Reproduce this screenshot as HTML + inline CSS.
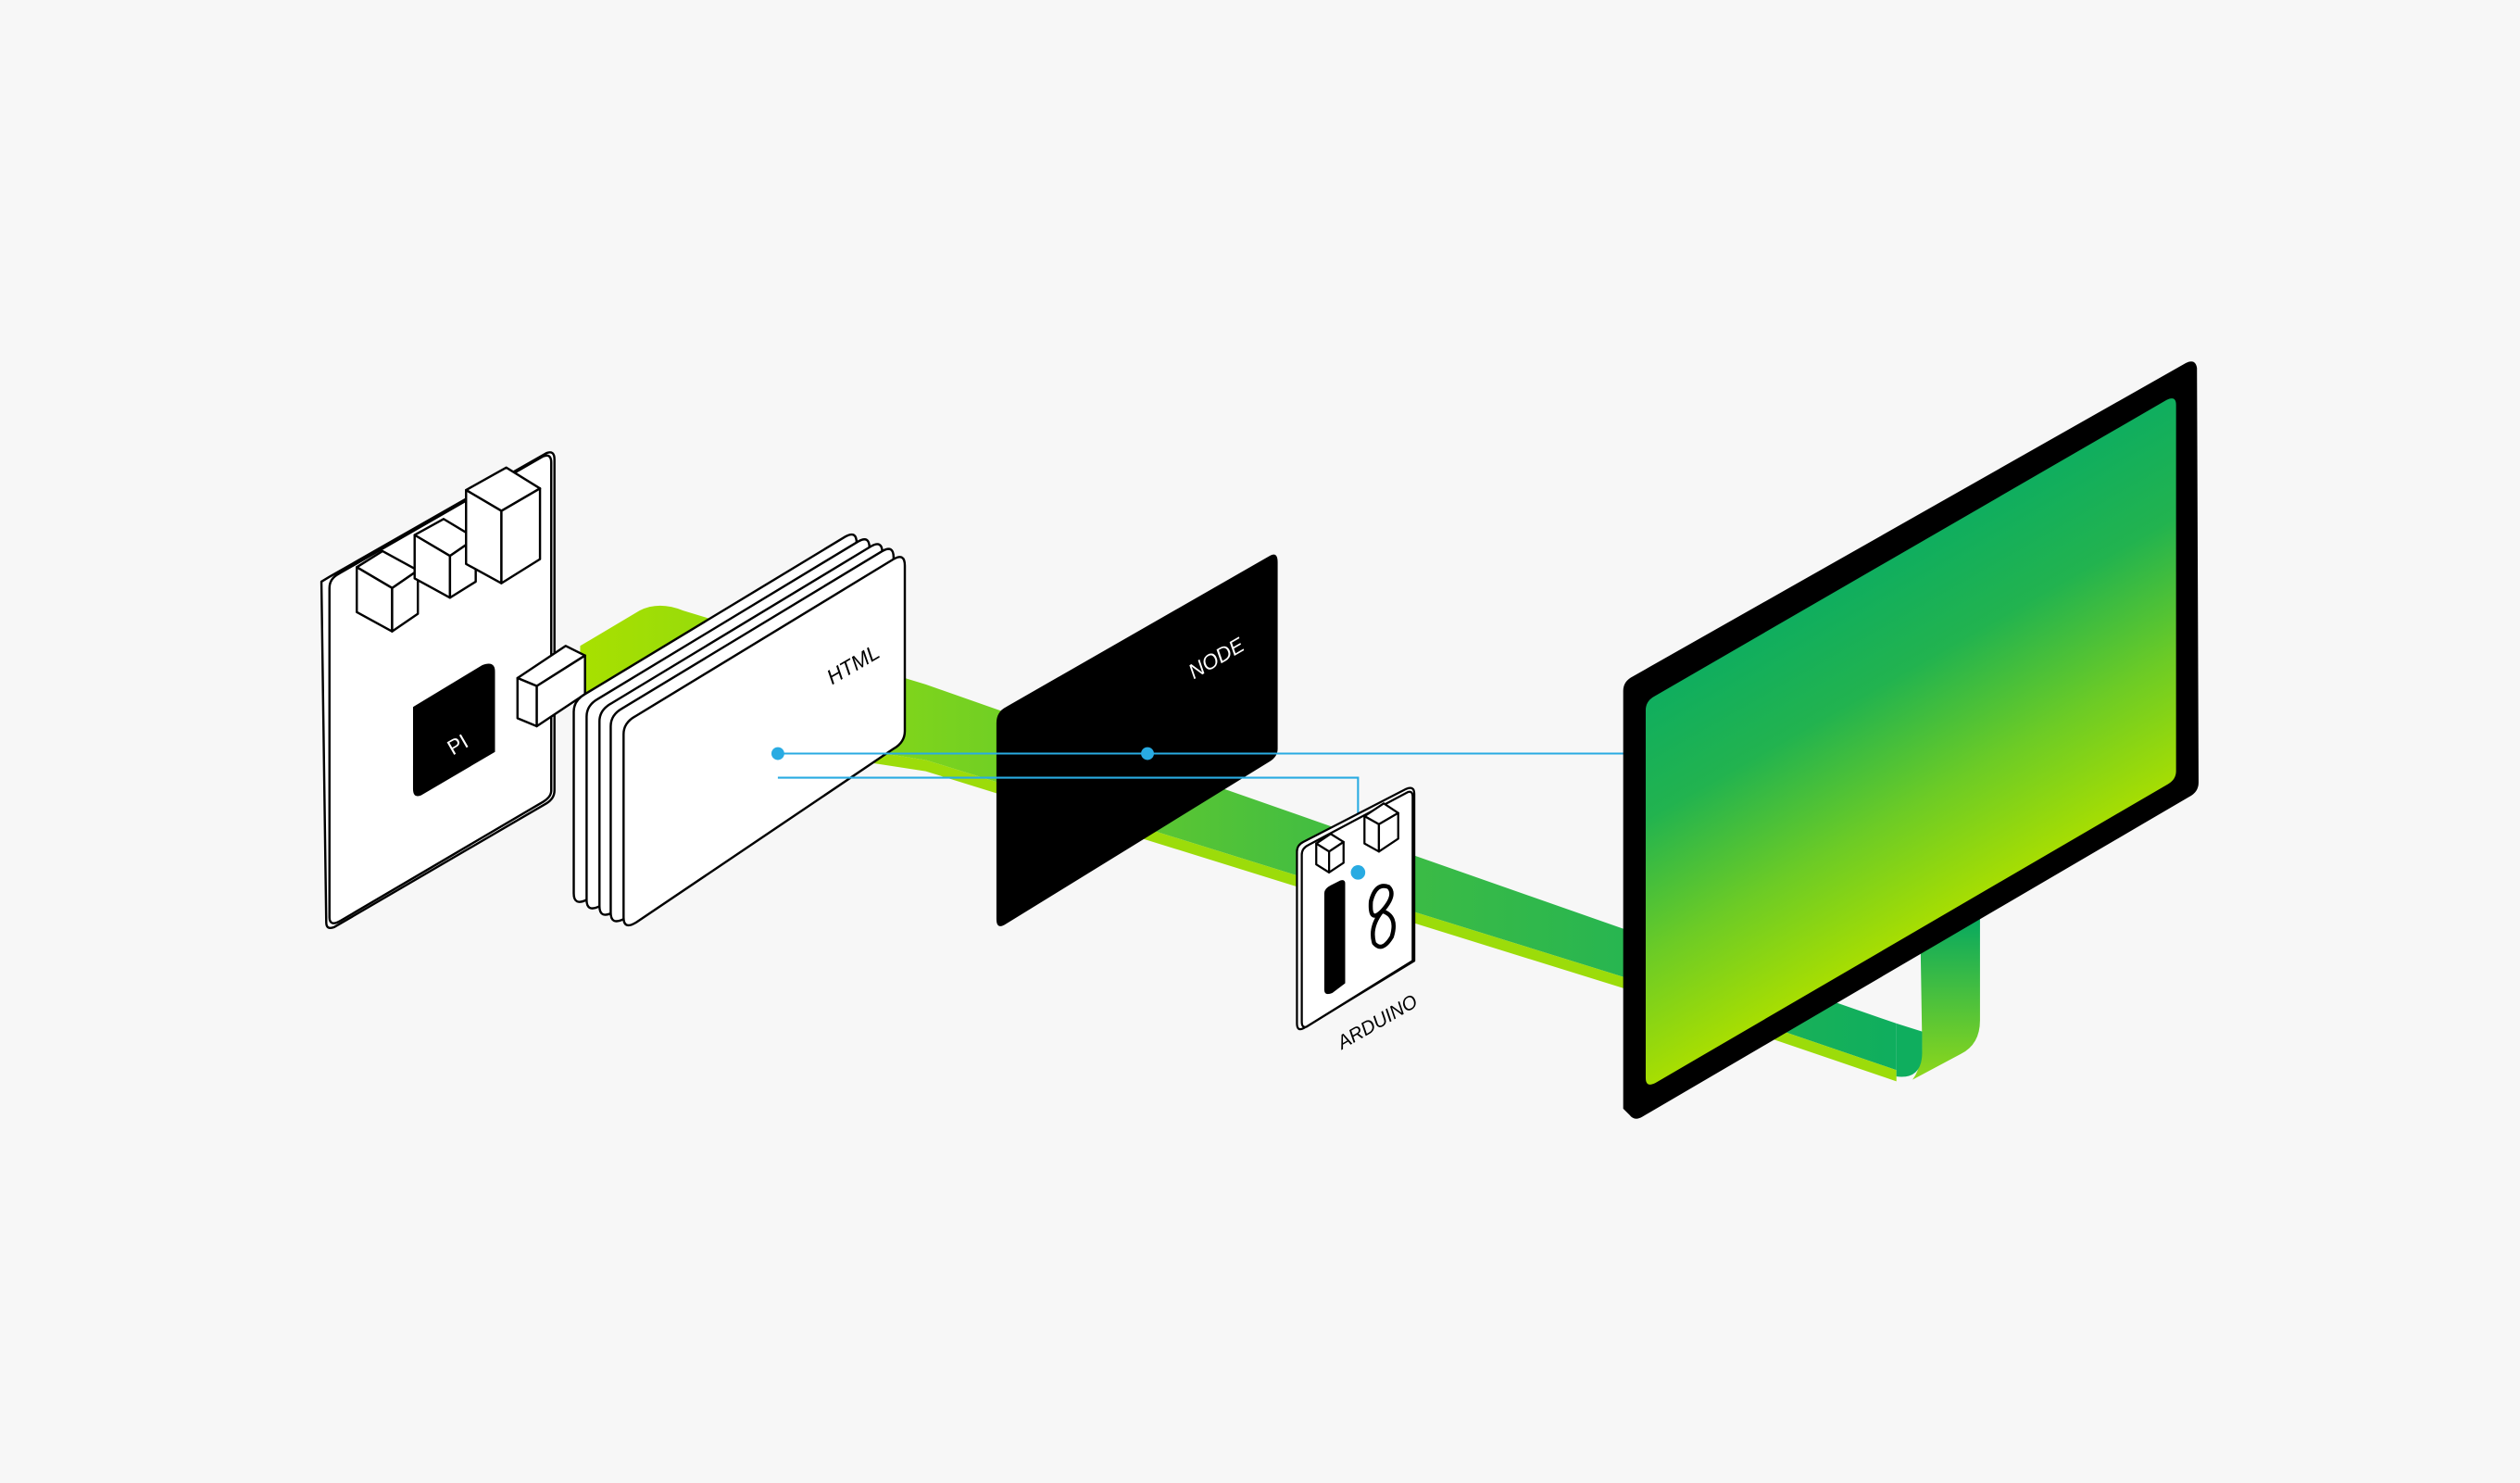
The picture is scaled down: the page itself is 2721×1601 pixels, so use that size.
<!DOCTYPE html>
<html><head><meta charset="utf-8"><style>
html,body{margin:0;padding:0;background:#f7f7f7;}
svg{display:block;}
text{font-family:"Liberation Sans",sans-serif;}
</style></head><body>
<svg width="2721" height="1601" viewBox="0 0 1568 923" preserveAspectRatio="none" xmlns="http://www.w3.org/2000/svg">
<defs>
<linearGradient id="band" x1="0" y1="0" x2="1" y2="0">
<stop offset="0" stop-color="#a8e000"/><stop offset="0.25" stop-color="#7ed41c"/><stop offset="0.55" stop-color="#45be40"/><stop offset="1" stop-color="#0fae5e"/></linearGradient>
<linearGradient id="scr" gradientUnits="userSpaceOnUse" x1="1185" y1="345" x2="1290" y2="529">
<stop offset="0" stop-color="#10ae5e"/><stop offset="0.3" stop-color="#22b34f"/><stop offset="0.65" stop-color="#6ccb26"/><stop offset="1" stop-color="#aadf00"/></linearGradient>
<linearGradient id="stand" x1="0" y1="0" x2="0" y2="1">
<stop offset="0" stop-color="#08a95f"/><stop offset="1" stop-color="#8fd81a"/></linearGradient>
</defs>
<rect width="1568" height="923" fill="#f7f7f7"/>
<!-- band -->
<path d="M361,402 L398,380 Q410,374 425,380 L576,426 L1010,578 L1180,637 L1180,666 L1010,608 L576,473 L361,440 Z" fill="url(#band)"/>
<path d="M361,440 L576,473 L1010,608 L1180,666 L1180,673 L1010,615 L576,480 L361,447 Z" fill="#9cdc0a"/>
<!-- stand -->
<path d="M1195,588 L1232,572 L1232,635 Q1232,650 1220,656 L1190,672 Q1196,664 1196,650 Z" fill="url(#stand)"/>
<path d="M1180,637 L1196,642 L1196,655 Q1196,672 1180,670 Z" fill="#0fae5e"/>
<!-- Pi board -->
<g stroke="#000" stroke-width="1.4" stroke-linejoin="round" fill="#fff">
<path d="M200,362 L205,359 L340,282 Q345,280 345,286 L345,492 Q345,497 340,500 L208,577 Q203,579 203,574 Z"/>
<path d="M205,366 Q205,360 211,357 L338,284 Q343,282 343,288 L343,492 Q343,496 338,499 L212,573 Q205,577 205,571 Z"/>
<path d="M222,353 L238,343 L260,355 L244,366 Z"/><path d="M222,353 L244,366 L244,393 L222,381 Z"/><path d="M244,366 L260,355 L260,382 L244,393 Z"/>
<path d="M258,333 L276,323 L296,335 L280,346 Z"/><path d="M258,333 L280,346 L280,372 L258,360 Z"/><path d="M280,346 L296,335 L296,362 L280,372 Z"/>
<path d="M290,305 L315,291 L336,304 L312,318 Z"/><path d="M290,305 L312,318 L312,363 L290,351 Z"/><path d="M312,318 L336,304 L336,348 L312,363 Z"/>
<path d="M322,422 L352,402 L364,408 L334,427 Z"/><path d="M322,422 L334,427 L334,452 L322,447 Z"/><path d="M334,427 L364,408 L364,432 L334,452 Z"/>
</g>
<path d="M257,440 L300,414 Q308,411 308,418 L308,468 L262,495 Q257,497 257,491 Z" fill="#000"/>
<text x="284" y="468" font-size="13" fill="#fff" transform="rotate(-30 284 462)" text-anchor="middle">PI</text>
<!-- pages -->
<g stroke="#000" stroke-width="1.4" fill="#fff" stroke-linejoin="round">
<path d="M357,443 Q357,436 364,432 L526,334 Q533,330 533,338 L533,452 L365,560 Q357,564 357,556 Z"/>
<path d="M365,446 Q365,439 372,435 L534,337 Q541,333 541,341 L541,455 L373,564 Q365,568 365,560 Z"/>
<path d="M373,449 Q373,442 380,438 L542,340 Q549,336 549,344 L549,458 L381,568 Q373,572 373,564 Z"/>
<path d="M380,452 Q380,445 387,441 L549,343 Q556,339 556,347 L556,461 L388,572 Q380,576 380,568 Z"/>
<path d="M388,457 Q388,450 395,446 L556,348 Q563,344 563,352 L563,455 Q563,462 556,466 L396,574 Q388,579 388,571 Z"/>
</g>
<text x="531" y="418" font-size="13" font-style="italic" fill="#000" transform="rotate(-30 531 414)" text-anchor="middle">HTML</text>
<!-- node panel -->
<path d="M620,450 Q620,443 626,440 L790,346 Q795,343 795,350 L795,466 Q795,471 790,474 L626,575 Q620,579 620,572 Z" fill="#000"/>
<text x="757" y="414" font-size="13" font-style="italic" fill="#fff" transform="rotate(-30 757 410)" text-anchor="middle">NODE</text>
<!-- blue lines -->
<g stroke="#29abe2" stroke-width="1.2" fill="none">
<path d="M484,469 L1012,469"/>
<path d="M484,484 L845,484 L845,543"/>
</g>
<circle cx="484" cy="469" r="4" fill="#29abe2"/>
<circle cx="714" cy="469" r="4" fill="#29abe2"/>
<!-- arduino -->
<g stroke="#000" stroke-width="1.3" fill="#fff" stroke-linejoin="round">
<path d="M807,530 Q807,526 811,524 L875,491 Q880,489 880,494 L880,598 L811,640 Q807,642 807,637 Z"/>
<path d="M810,532 Q810,528 814,526 L876,493 Q879,492 879,496 L879,598 L813,639 Q810,640 810,636 Z"/>
<path d="M819,525 L828,519 L836,524 L827,530 Z"/><path d="M819,525 L827,530 L827,543 L819,538 Z"/><path d="M827,530 L836,524 L836,537 L827,543 Z"/>
<path d="M849,508 L861,500 L870,506 L858,513 Z"/><path d="M849,508 L858,513 L858,530 L849,525 Z"/><path d="M858,513 L870,506 L870,522 L858,530 Z"/>
</g>
<circle cx="845" cy="543" r="4.5" fill="#29abe2"/>
<path d="M824,556 Q824,553 828,551 L834,548 Q837,547 837,550 L837,612 L829,618 Q824,620 824,616 Z" fill="#000"/>
<g fill="none" stroke="#000" stroke-width="2.6">
<path d="M860,567 Q852,575 853,561 Q856,549 864,552 Q869,557 860,567 Q852,577 855,587 Q860,593 866,583 Q870,570 860,567 Z"/>
</g>
<text x="857" y="640" font-size="12" font-style="italic" fill="#000" transform="rotate(-30 857 636)" text-anchor="middle">ARDUINO</text>
<!-- monitor -->
<path d="M1010,430 Q1010,424 1016,421 L1360,226 Q1366,223 1367,229 L1368,487 Q1368,493 1362,496 L1022,695 Q1017,698 1014,694 L1010,690 Z" fill="#000"/>
<path d="M1024,442 Q1024,436 1030,433 L1348,249 Q1354,246 1354,252 L1354,480 Q1354,485 1349,488 L1030,674 Q1024,677 1024,671 Z" fill="url(#scr)"/>
</svg>
</body></html>
